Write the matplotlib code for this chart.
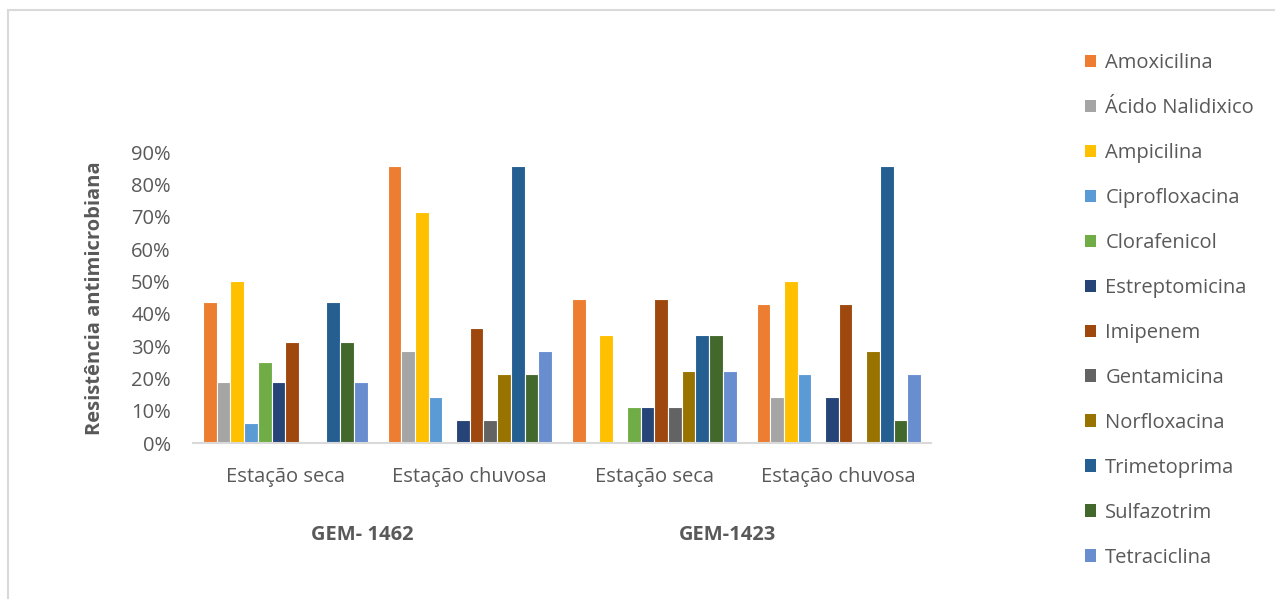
import numpy as np
import matplotlib.pyplot as plt
from matplotlib.patches import Rectangle

plt.rcParams['font.family'] = ['Open Sans', 'DejaVu Sans']

# categorias do eixo x e grupos (estirpes)
estacoes = ['Estação seca', 'Estação chuvosa', 'Estação seca', 'Estação chuvosa']
grupos = ['GEM- 1462', 'GEM-1423']

antibioticos = ['Amoxicilina', 'Ácido Nalidixico', 'Ampicilina', 'Ciprofloxacina',
                'Clorafenicol', 'Estreptomicina', 'Imipenem', 'Gentamicina',
                'Norfloxacina', 'Trimetoprima', 'Sulfazotrim', 'Tetraciclina']

cores = ['#ED7D31', '#A5A5A5', '#FFC000', '#5B9BD5', '#70AD47', '#264478',
         '#9E480E', '#636363', '#997300', '#255E91', '#43682B', '#698ED0']

# resistência (%) por antibiótico, uma coluna por categoria
amoxicilina = [43.75, 85.71, 44.44, 42.86]
acido_nalidixico = [18.75, 28.57, 0, 14.29]
ampicilina = [50.0, 71.43, 33.33, 50.0]
ciprofloxacina = [6.25, 14.29, 0, 21.43]
clorafenicol = [25.0, 0, 11.11, 0]
estreptomicina = [18.75, 7.14, 11.11, 14.29]
imipenem = [31.25, 35.71, 44.44, 42.86]
gentamicina = [0, 7.14, 11.11, 0]
norfloxacina = [0, 21.43, 22.22, 28.57]
trimetoprima = [43.75, 85.71, 33.33, 85.71]
sulfazotrim = [31.25, 21.43, 33.33, 7.14]
tetraciclina = [18.75, 28.57, 22.22, 21.43]

valores = [amoxicilina, acido_nalidixico, ampicilina, ciprofloxacina, clorafenicol,
           estreptomicina, imipenem, gentamicina, norfloxacina, trimetoprima,
           sulfazotrim, tetraciclina]

cinza = '#595959'
fs = 14.5

fig = plt.figure(figsize=(12.75, 5.99), dpi=100)
ax = fig.add_axes([0.1514, 0.2604, 0.5788, 0.4858])

x = np.arange(len(estacoes))
w = 0.0743
n = len(antibioticos)
for i, (nome, v, c) in enumerate(zip(antibioticos, valores, cores)):
    ax.bar(x + (i - (n - 1) / 2) * w, np.array(v) / 100, w, color=c,
           edgecolor='white', linewidth=0.8, label=nome)

ax.set_xlim(-0.5, len(estacoes) - 0.5)
ax.set_ylim(0, 0.9)
ax.set_yticks(np.arange(0, 0.91, 0.1))
ax.set_yticklabels([f'{int(round(t * 100))}%' for t in np.arange(0, 0.91, 0.1)])
ax.set_xticks(x)
ax.set_xticklabels(estacoes)
ax.tick_params(axis='both', length=0, labelsize=fs, colors=cinza)
ax.tick_params(axis='y', pad=16)
ax.tick_params(axis='x', pad=17)
for s in ['top', 'right', 'left']:
    ax.spines[s].set_visible(False)
ax.spines['bottom'].set_color('#D9D9D9')
ax.spines['bottom'].set_linewidth(1.5)

# rótulos dos grupos por baixo das categorias
for xc, g in zip([0.229, 0.7236], grupos):
    ax.text(xc, -0.316, g, transform=ax.transAxes, ha='center', va='center',
            fontsize=fs, fontweight='bold', color=cinza)

fig.text(0.0745, 0.5025, 'Resistência antimicrobiana', rotation=90,
         ha='center', va='center', fontsize=fs, fontweight='bold', color=cinza)

leg = fig.legend(loc='upper left', bbox_to_anchor=(0.8364, 0.9417), frameon=False,
                 fontsize=fs, handlelength=0.58, handleheight=0.58,
                 handletextpad=0.45, labelspacing=1.24, labelcolor=cinza)
for h in leg.legend_handles:
    h.set_edgecolor('none')

# contorno da área do gráfico
fig.patches.append(Rectangle((8 / 1275, -0.1), 1.2, 1 - 10 / 599 + 0.1,
                             transform=fig.transFigure, fill=False,
                             edgecolor='#D9D9D9', linewidth=1.5))

fig.savefig('out.png', dpi=100)
